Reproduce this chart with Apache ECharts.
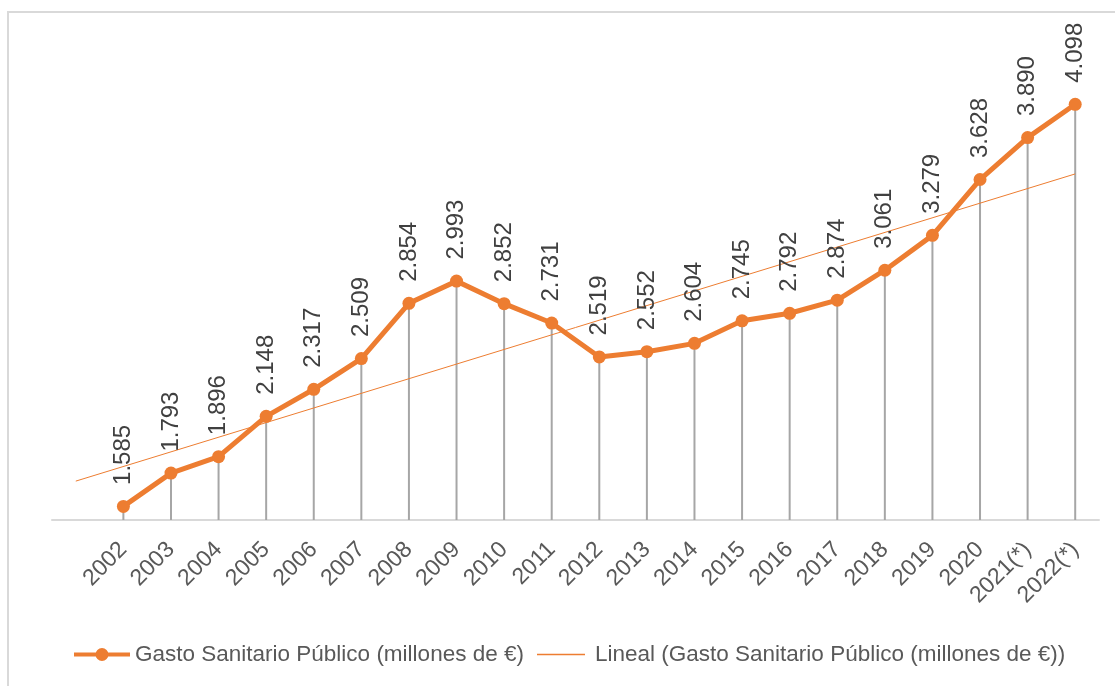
<!DOCTYPE html>
<html>
<head>
<meta charset="utf-8">
<script src="https://cdn.jsdelivr.net/npm/echarts@6/dist/echarts.min.js"></script>
<style>
  html, body { margin: 0; padding: 0; background: #ffffff; }
  #chart { width: 1115px; height: 686px; }
</style>
</head>
<body>
<div id="chart"></div>
<script>
// Years (the leading blank slot holds the backward extension of the trend line)
const years = ['', '2002', '2003', '2004', '2005', '2006', '2007', '2008', '2009', '2010',
  '2011', '2012', '2013', '2014', '2015', '2016', '2017', '2018', '2019', '2020',
  '2021(*)', '2022(*)'];

// Public health spending, millions of euros
const gasto = [null, 1585, 1793, 1896, 2148, 2317, 2509, 2854, 2993, 2852,
  2731, 2519, 2552, 2604, 2745, 2792, 2874, 3061, 3279, 3628,
  3890, 4098];

// Linear trend line end points
const tendencia = [1743, null, null, null, null, null, null, null, null, null,
  null, null, null, null, null, null, null, null, null, null,
  null, 3663];

const NAME_MAIN = 'Gasto Sanitario Público (millones de €)';
const NAME_TREND = 'Lineal (Gasto Sanitario Público (millones de €))';
const ORANGE = '#ED7D31';

// legend marker: thick line with a dot in the middle (56 x 13 box)
const ICON_MAIN = 'path://M0,4.5 L22,4.5 L22,8.5 L0,8.5 Z ' +
  'M34,4.5 L56,4.5 L56,8.5 L34,8.5 Z ' +
  'M21.5,6.5 A6.5,6.5 0 1 1 34.5,6.5 A6.5,6.5 0 1 1 21.5,6.5 Z';

function fmtES(v) {
  const n = Math.round(v);
  const th = Math.floor(n / 1000);
  const rest = String(n % 1000).padStart(3, '0');
  return th > 0 ? th + '.' + rest : String(n);
}

const chart = echarts.init(document.getElementById('chart'), null, { renderer: 'canvas' });

const legendText = { fontFamily: 'Liberation Sans', fontSize: 22.5, color: '#595959' };

chart.setOption({
  animation: false,
  backgroundColor: '#ffffff',
  graphic: [{
    type: 'rect',
    shape: { x: 8, y: 12, width: 1120, height: 690 },
    style: { fill: 'none', stroke: '#D9D9D9', lineWidth: 2 },
    silent: true,
    z: -10
  }],
  grid: { left: 52, right: 16, top: 40, bottom: 166, containLabel: false },
  legend: [{
    data: [{ name: NAME_MAIN, icon: ICON_MAIN }],
    left: 74, top: 643, padding: 0,
    itemWidth: 56, itemHeight: 13,
    itemStyle: { color: ORANGE, borderWidth: 0 },
    lineStyle: { width: 0 },
    textStyle: legendText
  }, {
    data: [{ name: NAME_TREND, icon: 'rect' }],
    left: 537, top: 643, padding: 0,
    itemWidth: 48, itemHeight: 1.5,
    itemStyle: { color: ORANGE, borderWidth: 0 },
    lineStyle: { width: 0 },
    textStyle: Object.assign({ padding: [0, 0, 0, 5] }, legendText)
  }],
  xAxis: {
    type: 'category',
    data: years,
    boundaryGap: true,
    axisLine: { show: true, lineStyle: { color: '#D9D9D9', width: 2 } },
    axisTick: { show: false },
    axisLabel: {
      interval: 0,
      rotate: 45,
      margin: 26,
      verticalAlign: 'middle',
      fontFamily: 'Liberation Sans',
      fontSize: 23,
      color: '#595959'
    },
    splitLine: { show: false }
  },
  yAxis: {
    type: 'value',
    min: 1500,
    max: 4500,
    show: false,
    splitLine: { show: false }
  },
  series: [{
    // vertical drop lines from each point to the axis
    name: 'drop',
    type: 'bar',
    data: gasto,
    barWidth: 2,
    barGap: '-100%',
    itemStyle: { color: '#A6A6A6' },
    silent: true,
    z: 1
  }, {
    name: NAME_TREND,
    type: 'line',
    data: tendencia,
    connectNulls: true,
    symbol: 'none',
    lineStyle: { color: ORANGE, width: 1 },
    itemStyle: { color: ORANGE },
    z: 2
  }, {
    name: NAME_MAIN,
    type: 'line',
    data: gasto,
    symbol: 'circle',
    symbolSize: 13,
    lineStyle: { color: ORANGE, width: 5 },
    itemStyle: { color: ORANGE },
    z: 3,
    label: {
      show: true,
      position: 'top',
      distance: 15,
      rotate: 90,
      align: 'left',
      verticalAlign: 'middle',
      fontFamily: 'Liberation Sans',
      fontSize: 24,
      color: '#404040',
      formatter: p => fmtES(p.value)
    }
  }]
});
</script>
</body>
</html>
